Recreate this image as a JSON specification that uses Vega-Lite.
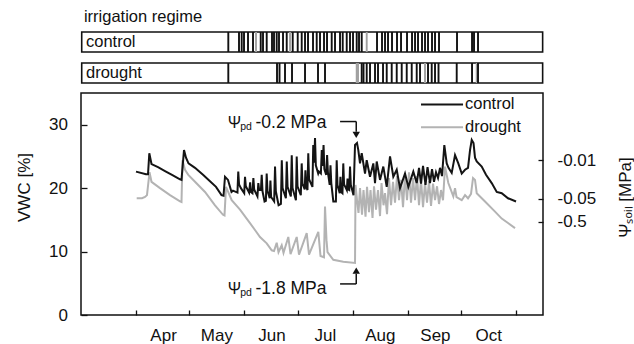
{
  "$schema": "https://vega.github.io/schema/vega-lite/v6.json",
  "padding": {"left": 14, "top": 8, "right": 0, "bottom": 0},
  "spacing": 8,
  "config": {
    "font": "Liberation Sans",
    "view": {"stroke": "#111", "strokeWidth": 1.5},
    "axis": {"grid": false, "domain": false, "labelFontSize": 17, "titleFontSize": 17, "titleFontWeight": "normal", "labelColor": "#111", "titleColor": "#111", "tickColor": "#111", "tickWidth": 1.3, "labelFont": "Liberation Sans", "titleFont": "Liberation Sans"},
    "text": {"font": "Liberation Sans", "color": "#111"}
  },
  "datasets": {
    "control": [
      {"doy":90.95,"vwc":22.6},{"doy":96.58,"vwc":22.2},{"doy":97.71,"vwc":22.2},{"doy":98.44,"vwc":25.5},{"doy":99.68,"vwc":23.8},{"doy":103.34,"vwc":23.3},{"doy":107.28,"vwc":22.7},{"doy":111.21,"vwc":22.1},{"doy":115.72,"vwc":21.4},{"doy":116.56,"vwc":21.3},{"doy":117.97,"vwc":26.0},{"doy":119.09,"vwc":24.8},{"doy":120.5,"vwc":23.9},{"doy":124.16,"vwc":23.2},{"doy":128.66,"vwc":22.1},{"doy":132.6,"vwc":21.1},{"doy":135.98,"vwc":20.2},{"doy":139.07,"vwc":18.9},{"doy":140.2,"vwc":18.8},{"doy":141.04,"vwc":21.8},{"doy":142.73,"vwc":21.3},{"doy":144.7,"vwc":19.4},
      {"doy":145.5,"vwc":19.6},{"doy":148.05,"vwc":19.3},{"doy":148.5,"vwc":22.6},{"doy":148.95,"vwc":20.6},{"doy":150.0,"vwc":20.0},{"doy":151.85,"vwc":19.2},{"doy":152.3,"vwc":21.8},{"doy":152.75,"vwc":20.3},{"doy":154.6,"vwc":19.3},{"doy":155.2,"vwc":20.9},{"doy":155.6,"vwc":19.4},{"doy":156.5,"vwc":19.2},{"doy":157.0,"vwc":21.6},{"doy":157.45,"vwc":19.8},{"doy":159.3,"vwc":18.7},{"doy":159.8,"vwc":20.8},{"doy":160.25,"vwc":19.7},{"doy":161.25,"vwc":19.7},{"doy":161.7,"vwc":22.1},{"doy":162.15,"vwc":19.5},{"doy":163.3,"vwc":17.9},{"doy":164.05,"vwc":18.0},{"doy":164.5,"vwc":22.3},{"doy":164.95,"vwc":19.6},{"doy":166.2,"vwc":18.4},{"doy":166.6,"vwc":21.2},{"doy":167.0,"vwc":18.6},{"doy":168.7,"vwc":17.9},{"doy":169.2,"vwc":23.4},{"doy":169.65,"vwc":19.5},{"doy":171.2,"vwc":17.3},{"doy":172.5,"vwc":17.5},{"doy":173.0,"vwc":24.4},{"doy":173.45,"vwc":20.0},{"doy":175.3,"vwc":18.4},{"doy":175.8,"vwc":24.2},{"doy":176.25,"vwc":20.2},{"doy":178.1,"vwc":18.7},{"doy":178.6,"vwc":25.2},{"doy":179.05,"vwc":20.0},{"doy":180.95,"vwc":18.1},{"doy":181.4,"vwc":25.0},{"doy":181.85,"vwc":20.3},{"doy":183.7,"vwc":18.9},{"doy":184.2,"vwc":23.9},{"doy":184.65,"vwc":20.7},{"doy":185.9,"vwc":19.8},{"doy":186.3,"vwc":22.8},{"doy":186.7,"vwc":20.3},{"doy":187.45,"vwc":19.7},{"doy":187.9,"vwc":25.5},{"doy":188.35,"vwc":21.4},{"doy":190.25,"vwc":20.2},{"doy":190.7,"vwc":26.8},{"doy":191.2,"vwc":24.0},{"doy":191.7,"vwc":27.9},{"doy":192.15,"vwc":23.6},{"doy":193.5,"vwc":22.3},{"doy":193.9,"vwc":22.6},{"doy":195.0,"vwc":22.3},{"doy":195.5,"vwc":26.0},{"doy":196.0,"vwc":23.5},{"doy":196.5,"vwc":26.8},{"doy":196.95,"vwc":23.0},{"doy":198.0,"vwc":22.1},{"doy":198.5,"vwc":25.2},{"doy":198.95,"vwc":22.5},{"doy":199.95,"vwc":20.5},{"doy":200.4,"vwc":23.6},{"doy":200.85,"vwc":20.8},{"doy":202.0,"vwc":17.9},{"doy":203.45,"vwc":17.9},{"doy":203.9,"vwc":24.4},{"doy":204.35,"vwc":20.5},{"doy":205.6,"vwc":19.2},{"doy":206.0,"vwc":21.8},{"doy":206.4,"vwc":19.4},{"doy":207.15,"vwc":19.2},{"doy":207.6,"vwc":23.9},{"doy":208.05,"vwc":20.6},{"doy":209.6,"vwc":19.7},{"doy":210.0,"vwc":21.5},{"doy":210.4,"vwc":19.8},{"doy":210.95,"vwc":19.7},{"doy":211.4,"vwc":23.4},{"doy":211.85,"vwc":20.5},{"doy":213.36,"vwc":18.9},
      {"doy":214.21,"vwc":26.8},{"doy":215.33,"vwc":27.1},{"doy":216.06,"vwc":26.0},{"doy":217.02,"vwc":23.9},{"doy":217.98,"vwc":25.5},{"doy":219.84,"vwc":22.3},{"doy":220.79,"vwc":24.4},{"doy":222.65,"vwc":21.8},{"doy":224.51,"vwc":23.9},{"doy":225.46,"vwc":20.8},{"doy":226.42,"vwc":24.2},{"doy":228.28,"vwc":21.3},{"doy":230.13,"vwc":23.4},{"doy":232.05,"vwc":20.2},{"doy":233.91,"vwc":25.0},{"doy":235.76,"vwc":21.8},{"doy":237.68,"vwc":22.9},{"doy":239.53,"vwc":20.0},{"doy":242.35,"vwc":22.3},{"doy":244.21,"vwc":20.2},{"doy":247.02,"vwc":22.6},{"doy":248.93,"vwc":20.8},{"doy":250.23,"vwc":23.2},{"doy":251.35,"vwc":20.7},{"doy":252.48,"vwc":23.5},{"doy":253.89,"vwc":20.5},{"doy":255.01,"vwc":23.3},{"doy":256.42,"vwc":20.8},{"doy":257.54,"vwc":23.0},{"doy":258.67,"vwc":21.0},{"doy":259.79,"vwc":22.5},{"doy":260.92,"vwc":21.6},{"doy":262.05,"vwc":23.2},{"doy":263.17,"vwc":21.9},{"doy":264.47,"vwc":26.8},{"doy":265.82,"vwc":23.9},{"doy":266.83,"vwc":23.2},{"doy":268.63,"vwc":22.4},{"doy":270.49,"vwc":25.2},{"doy":272.34,"vwc":23.9},{"doy":274.26,"vwc":22.3},{"doy":276.12,"vwc":22.9},{"doy":277.8,"vwc":23.2},{"doy":278.93,"vwc":26.0},{"doy":279.89,"vwc":27.6},{"doy":280.9,"vwc":27.1},{"doy":281.74,"vwc":24.8},{"doy":282.7,"vwc":24.2},{"doy":285.51,"vwc":23.4},{"doy":287.93,"vwc":22.1},{"doy":291.14,"vwc":20.8},{"doy":293.96,"vwc":19.4},{"doy":296.77,"vwc":19.2},{"doy":300.32,"vwc":18.4},{"doy":304.82,"vwc":17.9}
    ],
    "drought": [
      {"doy":91.35,"vwc":18.4},{"doy":94.33,"vwc":18.4},{"doy":96.02,"vwc":18.6},{"doy":97.14,"vwc":18.9},{"doy":98.55,"vwc":22.5},{"doy":99.68,"vwc":21.0},{"doy":104.46,"vwc":20.0},{"doy":110.09,"vwc":18.9},{"doy":115.72,"vwc":17.9},{"doy":116.56,"vwc":17.8},{"doy":117.12,"vwc":24.4},{"doy":118.53,"vwc":22.9},{"doy":120.39,"vwc":22.1},{"doy":124.16,"vwc":21.0},{"doy":129.79,"vwc":19.4},{"doy":135.42,"vwc":17.3},{"doy":139.92,"vwc":15.8},{"doy":140.76,"vwc":15.7},{"doy":141.61,"vwc":20.2},{"doy":144.81,"vwc":18.1},{"doy":149.49,"vwc":16.6},{"doy":155.11,"vwc":14.5},{"doy":160.74,"vwc":12.3},{"doy":164.51,"vwc":11.3},{"doy":167.33,"vwc":10.2},{"doy":168.62,"vwc":10.1},{"doy":170.14,"vwc":11.4},{"doy":171.15,"vwc":9.9},{"doy":172.95,"vwc":11.0},{"doy":173.97,"vwc":9.8},{"doy":176.67,"vwc":12.3},{"doy":177.91,"vwc":9.6},{"doy":181.4,"vwc":12.3},{"doy":182.69,"vwc":9.5},{"doy":187.02,"vwc":12.9},{"doy":188.32,"vwc":9.5},{"doy":193.55,"vwc":13.1},{"doy":194.79,"vwc":9.3},{"doy":196.76,"vwc":9.1},{"doy":197.32,"vwc":17.1},{"doy":198.17,"vwc":11.8},{"doy":198.73,"vwc":9.9},{"doy":201.99,"vwc":8.7},{"doy":207.62,"vwc":8.4},{"doy":214.21,"vwc":8.2},{"doy":214.49,"vwc":20.5},{"doy":215.33,"vwc":18.1},{"doy":216.17,"vwc":16.1},{"doy":217.02,"vwc":20.0},{"doy":218.15,"vwc":15.8},{"doy":218.99,"vwc":19.7},{"doy":220.12,"vwc":15.5},{"doy":220.96,"vwc":20.2},{"doy":222.09,"vwc":16.2},{"doy":222.93,"vwc":19.7},{"doy":224.06,"vwc":15.3},{"doy":224.9,"vwc":20.3},{"doy":226.03,"vwc":16.6},{"doy":227.15,"vwc":19.7},{"doy":228.28,"vwc":15.6},{"doy":229.12,"vwc":20.8},{"doy":230.25,"vwc":17.3},{"doy":231.09,"vwc":19.2},{"doy":232.22,"vwc":15.9},{"doy":233.34,"vwc":21.6},{"doy":234.47,"vwc":17.3},{"doy":235.59,"vwc":21.0},{"doy":236.72,"vwc":17.7},{"doy":237.84,"vwc":21.9},{"doy":238.97,"vwc":18.1},{"doy":240.1,"vwc":21.3},{"doy":241.22,"vwc":17.0},{"doy":242.35,"vwc":22.1},{"doy":243.47,"vwc":18.1},{"doy":244.6,"vwc":22.5},{"doy":245.72,"vwc":17.7},{"doy":246.85,"vwc":21.6},{"doy":247.98,"vwc":18.1},{"doy":249.1,"vwc":21.9},{"doy":250.23,"vwc":17.3},{"doy":251.35,"vwc":21.3},{"doy":252.48,"vwc":17.0},{"doy":253.6,"vwc":20.8},{"doy":254.73,"vwc":17.7},{"doy":255.85,"vwc":21.1},{"doy":256.98,"vwc":17.2},{"doy":258.11,"vwc":20.7},{"doy":259.23,"vwc":18.1},{"doy":260.36,"vwc":20.3},{"doy":261.48,"vwc":17.5},{"doy":262.61,"vwc":19.7},{"doy":263.73,"vwc":18.1},{"doy":264.86,"vwc":23.4},{"doy":266.72,"vwc":20.8},{"doy":269.53,"vwc":18.7},{"doy":270.49,"vwc":20.0},{"doy":271.33,"vwc":18.6},{"doy":274.26,"vwc":18.1},{"doy":276.12,"vwc":18.9},{"doy":277.8,"vwc":18.4},{"doy":279.49,"vwc":19.1},{"doy":280.62,"vwc":21.6},{"doy":281.74,"vwc":21.3},{"doy":282.7,"vwc":19.2},{"doy":287.37,"vwc":17.9},{"doy":293.0,"vwc":16.3},{"doy":296.77,"vwc":15.2},{"doy":300.32,"vwc":14.5},{"doy":304.26,"vwc":13.7}
    ],
    "events": [
      {"regime":"control","doy":142.9,"amount":"full"},{"regime":"control","doy":148.92,"amount":"full"},{"regime":"control","doy":150.44,"amount":"full"},{"regime":"control","doy":151.74,"amount":"full"},{"regime":"control","doy":153.99,"amount":"full"},{"regime":"control","doy":156.8,"amount":"full"},{"regime":"control","doy":158.49,"amount":"small"},{"regime":"control","doy":161.14,"amount":"full"},{"regime":"control","doy":162.43,"amount":"full"},{"regime":"control","doy":164.51,"amount":"full"},{"regime":"control","doy":167.49,"amount":"full"},{"regime":"control","doy":168.62,"amount":"full"},{"regime":"control","doy":170.14,"amount":"full"},{"regime":"control","doy":171.43,"amount":"full"},{"regime":"control","doy":173.69,"amount":"full"},{"regime":"control","doy":175.77,"amount":"full"},{"regime":"control","doy":177.63,"amount":"small"},{"regime":"control","doy":179.15,"amount":"full"},{"regime":"control","doy":181.96,"amount":"full"},{"regime":"control","doy":184.21,"amount":"full"},{"regime":"control","doy":186.07,"amount":"full"},{"regime":"control","doy":187.76,"amount":"full"},{"regime":"control","doy":190.57,"amount":"full"},{"regime":"control","doy":192.65,"amount":"full"},{"regime":"control","doy":194.51,"amount":"full"},{"regime":"control","doy":196.76,"amount":"full"},{"regime":"control","doy":198.45,"amount":"full"},{"regime":"control","doy":201.09,"amount":"full"},{"regime":"control","doy":202.95,"amount":"full"},{"regime":"control","doy":205.77,"amount":"full"},{"regime":"control","doy":207.29,"amount":"full"},{"regime":"control","doy":209.54,"amount":"full"},{"regime":"control","doy":211.39,"amount":"full"},{"regime":"control","doy":213.08,"amount":"full"},{"regime":"control","doy":215.16,"amount":"full"},{"regime":"control","doy":216.46,"amount":"full"},{"regime":"control","doy":217.98,"amount":"full"},{"regime":"control","doy":220.79,"amount":"small"},{"regime":"control","doy":226.59,"amount":"full"},{"regime":"control","doy":229.4,"amount":"full"},{"regime":"control","doy":231.09,"amount":"full"},{"regime":"control","doy":232.78,"amount":"full"},{"regime":"control","doy":235.03,"amount":"full"},{"regime":"control","doy":237.84,"amount":"full"},{"regime":"control","doy":240.1,"amount":"full"},{"regime":"control","doy":243.47,"amount":"full"},{"regime":"control","doy":246.29,"amount":"full"},{"regime":"control","doy":247.98,"amount":"full"},{"regime":"control","doy":249.66,"amount":"full"},{"regime":"control","doy":251.91,"amount":"full"},{"regime":"control","doy":253.6,"amount":"full"},{"regime":"control","doy":255.29,"amount":"full"},{"regime":"control","doy":257.54,"amount":"full"},{"regime":"control","doy":259.23,"amount":"full"},{"regime":"control","doy":261.48,"amount":"full"},{"regime":"control","doy":271.61,"amount":"full"},{"regime":"control","doy":280.06,"amount":"full"},{"regime":"control","doy":281.18,"amount":"full"},{"regime":"control","doy":283.43,"amount":"full"},
      {"regime":"drought","doy":142.9,"amount":"full"},{"regime":"drought","doy":170.31,"amount":"full"},{"regime":"drought","doy":171.72,"amount":"full"},{"regime":"drought","doy":174.81,"amount":"full"},{"regime":"drought","doy":178.75,"amount":"full"},{"regime":"drought","doy":186.07,"amount":"full"},{"regime":"drought","doy":193.38,"amount":"full"},{"regime":"drought","doy":197.32,"amount":"full"},{"regime":"drought","doy":215.16,"amount":"small"},{"regime":"drought","doy":215.9,"amount":"small"},{"regime":"drought","doy":217.98,"amount":"full"},{"regime":"drought","doy":218.99,"amount":"full"},{"regime":"drought","doy":220.79,"amount":"full"},{"regime":"drought","doy":222.65,"amount":"full"},{"regime":"drought","doy":225.46,"amount":"full"},{"regime":"drought","doy":227.15,"amount":"full"},{"regime":"drought","doy":229.97,"amount":"full"},{"regime":"drought","doy":232.05,"amount":"full"},{"regime":"drought","doy":234.86,"amount":"full"},{"regime":"drought","doy":237.68,"amount":"full"},{"regime":"drought","doy":240.49,"amount":"full"},{"regime":"drought","doy":243.31,"amount":"full"},{"regime":"drought","doy":246.12,"amount":"full"},{"regime":"drought","doy":248.93,"amount":"full"},{"regime":"drought","doy":250.79,"amount":"full"},{"regime":"drought","doy":253.6,"amount":"small"},{"regime":"drought","doy":255.29,"amount":"full"},{"regime":"drought","doy":257.37,"amount":"full"},{"regime":"drought","doy":259.23,"amount":"full"},{"regime":"drought","doy":261.2,"amount":"full"},{"regime":"drought","doy":271.44,"amount":"full"},{"regime":"drought","doy":280.06,"amount":"full"},{"regime":"drought","doy":282.7,"amount":"small"},{"regime":"drought","doy":283.43,"amount":"full"}
    ],
    "regimes": [{"regime":"control"},{"regime":"drought"}]
  },
  "vconcat": [
    {
      "width": 462,
      "height": 51,
      "view": {"stroke": null},
      "title": {"text": "irrigation regime", "anchor": "start", "fontSize": 16.5, "fontWeight": "normal", "offset": 6, "dx": 3, "color": "#111", "font": "Liberation Sans"},
      "layer": [
        {
          "data": {"name": "regimes"},
          "mark": {"type": "rect", "fill": "white", "stroke": "#111", "strokeWidth": 1.6},
          "encoding": {
            "x": {"datum": 60.4, "type": "quantitative", "scale": {"domain": [60, 320]}, "axis": null},
            "x2": {"datum": 319.8},
            "y": {"field": "regime", "type": "nominal", "scale": {"domain": ["control", "drought"], "paddingInner": 0.355, "paddingOuter": 0}, "axis": null}
          }
        },
        {
          "data": {"name": "regimes"},
          "mark": {"type": "text", "align": "left", "baseline": "middle", "fontSize": 16.5, "color": "#111"},
          "encoding": {
            "x": {"datum": 62.8, "type": "quantitative", "axis": null},
            "y": {"field": "regime", "type": "nominal", "axis": null},
            "text": {"field": "regime"}
          }
        },
        {
          "data": {"name": "events"},
          "mark": {"type": "tick", "orient": "vertical", "size": 20, "thickness": 1.9, "opacity": 1},
          "encoding": {
            "x": {"field": "doy", "type": "quantitative", "axis": null},
            "y": {"field": "regime", "type": "nominal", "axis": null},
            "color": {"field": "amount", "type": "nominal", "scale": {"domain": ["full", "small"], "range": ["#111", "#a0a0a0"]}, "legend": null}
          }
        }
      ]
    },
    {
      "width": 462,
      "height": 222,
      "layer": [
        {
          "data": {"name": "drought"},
          "mark": {"type": "line", "color": "#b3b3b3", "strokeWidth": 2},
          "encoding": {
            "x": {"field": "doy", "type": "quantitative", "scale": {"domain": [60, 320], "nice": false, "zero": false},
                  "axis": {"title": null, "values": [91, 121, 152, 182, 213, 244, 274, 305], "tickSize": -5, "labelPadding": 17, "labelOffset": 27,
                           "labelExpr": "['Apr','May','Jun','Jul','Aug','Sep','Oct',''][indexof([91,121,152,182,213,244,274,305], datum.value)]"}},
            "y": {"field": "vwc", "type": "quantitative", "scale": {"domain": [0, 35], "nice": false},
                  "axis": {"orient": "right", "title": "Ψₛₒᵢₗ [MPa]", "titleAngle": 270, "titlePadding": 39, "titleY": 104, "values": [24.4, 18.3, 14.7], "tickSize": -5, "labelPadding": 19,
                           "labelExpr": "datum.value == 24.4 ? '-0.01' : datum.value == 18.3 ? '-0.05' : '-0.5'"}}
          }
        },
        {
          "data": {"name": "control"},
          "mark": {"type": "line", "color": "#141414", "strokeWidth": 2},
          "encoding": {
            "x": {"field": "doy", "type": "quantitative", "title": null},
            "y": {"field": "vwc", "type": "quantitative",
                  "axis": {"orient": "left", "title": "VWC [%]", "titlePadding": 15.5, "titleY": 94, "values": [0, 10, 20, 30], "tickSize": -6, "labelPadding": 19.5}}
          }
        },
        {
          "data": {"values": [{}]},
          "mark": {"type": "rule", "color": "#141414", "strokeWidth": 2},
          "encoding": {"x": {"datum": 251.35, "type": "quantitative"}, "x2": {"datum": 275}, "y": {"datum": 33.2, "type": "quantitative", "axis": null}}
        },
        {
          "data": {"values": [{}]},
          "mark": {"type": "rule", "color": "#b3b3b3", "strokeWidth": 2},
          "encoding": {"x": {"datum": 251.35, "type": "quantitative"}, "x2": {"datum": 275}, "y": {"datum": 29.6, "type": "quantitative", "axis": null}}
        },
        {
          "data": {"values": [{}]},
          "mark": {"type": "text", "text": "control", "align": "left", "baseline": "middle", "fontSize": 16.5},
          "encoding": {"x": {"datum": 276.1, "type": "quantitative"}, "y": {"datum": 33.3, "type": "quantitative", "axis": null}}
        },
        {
          "data": {"values": [{}]},
          "mark": {"type": "text", "text": "drought", "align": "left", "baseline": "middle", "fontSize": 16.5},
          "encoding": {"x": {"datum": 276.1, "type": "quantitative"}, "y": {"datum": 29.7, "type": "quantitative", "axis": null}}
        },
        {
          "data": {"values": [{}]},
          "mark": {"type": "text", "text": "Ψ", "align": "left", "baseline": "middle", "fontSize": 16},
          "encoding": {"x": {"datum": 142.6, "type": "quantitative"}, "y": {"datum": 30.2, "type": "quantitative", "axis": null}}
        },
        {
          "data": {"values": [{}]},
          "mark": {"type": "text", "text": "pd", "align": "left", "baseline": "middle", "fontSize": 10.5},
          "encoding": {"x": {"datum": 149.6, "type": "quantitative"}, "y": {"datum": 29.6, "type": "quantitative", "axis": null}}
        },
        {
          "data": {"values": [{}]},
          "mark": {"type": "text", "text": "-0.2 MPa", "align": "left", "baseline": "middle", "fontSize": 17.5},
          "encoding": {"x": {"datum": 158.2, "type": "quantitative"}, "y": {"datum": 30.2, "type": "quantitative", "axis": null}}
        },
        {
          "data": {"values": [{}]},
          "mark": {"type": "text", "text": "Ψ", "align": "left", "baseline": "middle", "fontSize": 16},
          "encoding": {"x": {"datum": 142.6, "type": "quantitative"}, "y": {"datum": 4.05, "type": "quantitative", "axis": null}}
        },
        {
          "data": {"values": [{}]},
          "mark": {"type": "text", "text": "pd", "align": "left", "baseline": "middle", "fontSize": 10.5},
          "encoding": {"x": {"datum": 149.6, "type": "quantitative"}, "y": {"datum": 3.45, "type": "quantitative", "axis": null}}
        },
        {
          "data": {"values": [{}]},
          "mark": {"type": "text", "text": "-1.8 MPa", "align": "left", "baseline": "middle", "fontSize": 17.5},
          "encoding": {"x": {"datum": 158.2, "type": "quantitative"}, "y": {"datum": 4.05, "type": "quantitative", "axis": null}}
        },
        {
          "data": {"values": [{}]},
          "mark": {"type": "rule", "color": "#111", "strokeWidth": 1.5},
          "encoding": {"x": {"datum": 205.8, "type": "quantitative"}, "x2": {"datum": 214.9}, "y": {"datum": 30.5, "type": "quantitative", "axis": null}}
        },
        {
          "data": {"values": [{}]},
          "mark": {"type": "rule", "color": "#111", "strokeWidth": 1.5},
          "encoding": {"x": {"datum": 214.9, "type": "quantitative"}, "y": {"datum": 30.5, "type": "quantitative", "axis": null}, "y2": {"datum": 28.9}}
        },
        {
          "data": {"values": [{}]},
          "mark": {"type": "point", "shape": "triangle-down", "filled": true, "color": "#111", "size": 55, "opacity": 1},
          "encoding": {"x": {"datum": 214.9, "type": "quantitative"}, "y": {"datum": 28.4, "type": "quantitative", "axis": null}}
        },
        {
          "data": {"values": [{}]},
          "mark": {"type": "rule", "color": "#111", "strokeWidth": 1.5},
          "encoding": {"x": {"datum": 205.8, "type": "quantitative"}, "x2": {"datum": 214.9}, "y": {"datum": 4.9, "type": "quantitative", "axis": null}}
        },
        {
          "data": {"values": [{}]},
          "mark": {"type": "rule", "color": "#111", "strokeWidth": 1.5},
          "encoding": {"x": {"datum": 214.9, "type": "quantitative"}, "y": {"datum": 4.9, "type": "quantitative", "axis": null}, "y2": {"datum": 6.5}}
        },
        {
          "data": {"values": [{}]},
          "mark": {"type": "point", "shape": "triangle-up", "filled": true, "color": "#111", "size": 55, "opacity": 1},
          "encoding": {"x": {"datum": 214.9, "type": "quantitative"}, "y": {"datum": 7.0, "type": "quantitative", "axis": null}}
        }
      ],
      "resolve": {"axis": {"y": "independent"}}
    }
  ]
}
